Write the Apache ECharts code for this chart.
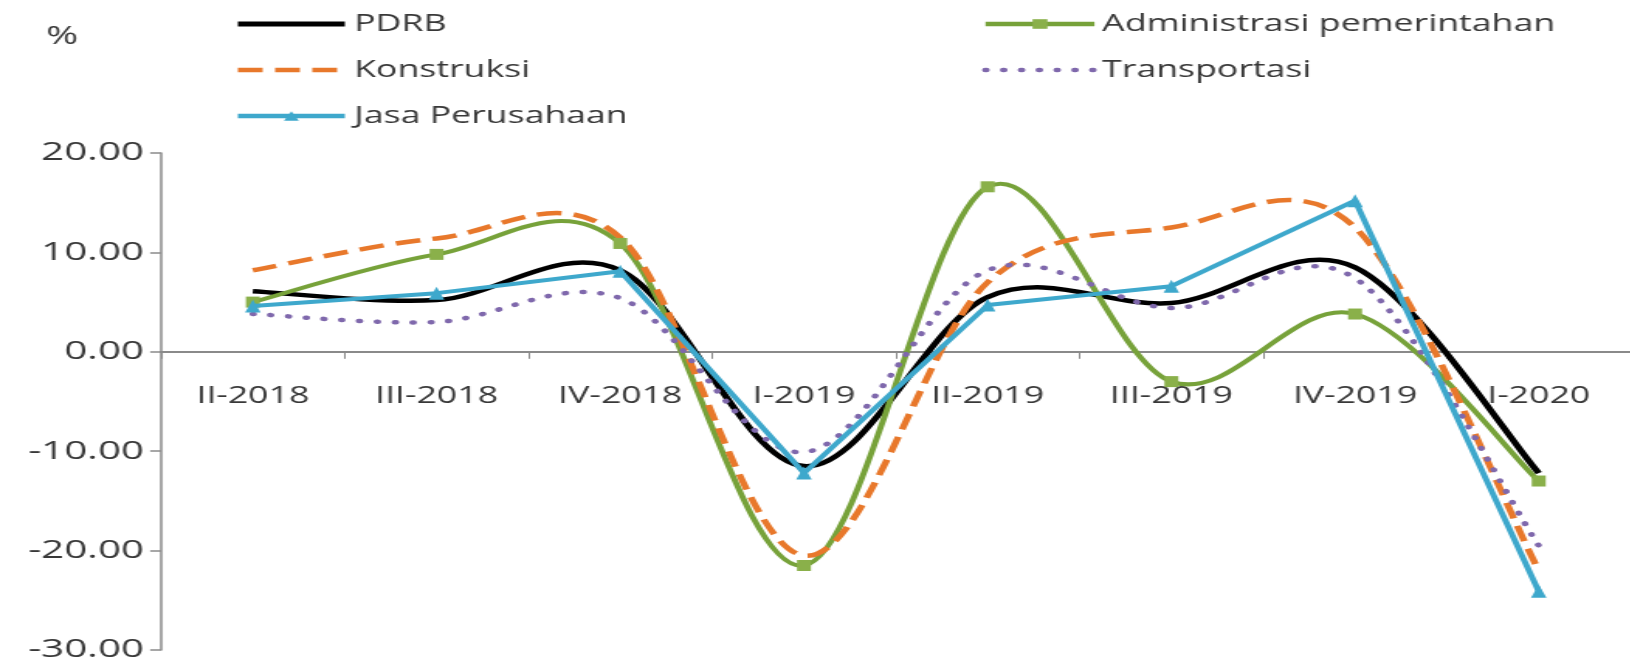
<!DOCTYPE html>
<html>
<head>
<meta charset="utf-8">
<script src="https://cdn.jsdelivr.net/npm/echarts@6/dist/echarts.min.js"></script>
<style>
html, body { margin: 0; padding: 0; background: #fff; overflow: hidden; width: 1630px; height: 667px; }
#wrap { width: 1630px; height: 667px; overflow: hidden; position: relative; }
#chart { width: 1052px; height: 667px; transform: scaleX(1.55); transform-origin: 0 0; position: absolute; left: 0; top: 0; }
</style>
</head>
<body>
<div id="wrap"><div id="chart"></div></div>
<script>
// Data (growth, %)
const categories = ['II-2018', 'III-2018', 'IV-2018', 'I-2019', 'II-2019', 'III-2019', 'IV-2019', 'I-2020'];
const pdrb = [6.1, 5.2, 8.2, -11.5, 5.5, 4.9, 8.5, -12.2];
const administrasi = [5.0, 9.8, 10.9, -21.5, 16.6, -3.0, 3.8, -13.0];
const konstruksi = [8.2, 11.4, 11.5, -20.5, 7.0, 12.5, 12.5, -22.0];
const transportasi = [3.8, 3.0, 5.4, -10.1, 8.2, 4.4, 7.4, -19.5];
const jasa = [4.6, 5.9, 8.1, -12.2, 4.7, 6.6, 15.2, -24.1];
const yTicks = { min: -30, max: 20, interval: 10 };

const S = 1.55; // horizontal stretch of the reference
const FONT = "'Open Sans', 'DejaVu Sans', sans-serif";
const TXT = '#383838';
const AXIS = '#8a8a8a';
const C = { pdrb: '#000000', adm: '#77a23a', kon: '#e8782b', tra: '#7f68ac', jasa: '#3ea8cc' };

// Excel-like smoothed curve drawn through the data via the axes (custom series)
function curve(values, color, width, dash, cap) {
  return {
    type: 'custom', silent: true, data: [0], z: 2,
    renderItem: function (params, api) {
      const pts = values.map((v, i) => api.coord([i, v]));
      const n = pts.length;
      let d = 'M' + pts[0][0] + ' ' + pts[0][1];
      for (let i = 0; i < n - 1; i++) {
        const p0 = pts[Math.max(i - 1, 0)], p1 = pts[i], p2 = pts[i + 1], p3 = pts[Math.min(i + 2, n - 1)];
        const c1x = p1[0] + (p2[0] - p0[0]) / 6, c1y = p1[1] + (p2[1] - p0[1]) / 6;
        const c2x = p2[0] - (p3[0] - p1[0]) / 6, c2y = p2[1] - (p3[1] - p1[1]) / 6;
        d += ' C' + c1x + ' ' + c1y + ' ' + c2x + ' ' + c2y + ' ' + p2[0] + ' ' + p2[1];
      }
      return {
        type: 'path', shape: { pathData: d },
        style: { fill: null, stroke: color, lineWidth: width, lineDash: dash || null, lineCap: cap || 'butt', lineJoin: 'round' }
      };
    }
  };
}

const legendText = { fontFamily: FONT, fontSize: 23, color: TXT, lineHeight: 24 };

const chart = echarts.init(document.getElementById('chart'), null, { renderer: 'canvas' });
chart.setOption({
  animation: false,
  backgroundColor: '#fff',
  title: {
    text: '%', left: 46 / S, top: 24, padding: 0,
    textStyle: { fontFamily: FONT, fontSize: 25, fontWeight: 'normal', color: TXT }
  },
  legend: [
    {
      orient: 'vertical', left: 234 / S, top: 12, padding: 0, itemWidth: 107 / S, itemHeight: 12, itemGap: 22,
      textStyle: Object.assign({ padding: [0, 0, 0, 1] }, legendText),
      data: [
        { name: 'PDRB', itemStyle: { opacity: 0 }, lineStyle: { color: C.pdrb, width: 5, opacity: 1, type: 'solid' } },
        { name: 'Konstruksi', itemStyle: { opacity: 0 }, lineStyle: { color: C.kon, width: 4.5, opacity: 1, type: [16, 8] } },
        { name: 'Jasa Perusahaan', lineStyle: { color: C.jasa, width: 4.5, opacity: 1, type: 'solid' } }
      ]
    },
    {
      orient: 'vertical', left: 982 / S, top: 12, padding: 0, itemWidth: 109 / S, itemHeight: 12, itemGap: 22,
      textStyle: Object.assign({ padding: [0, 0, 0, 0] }, legendText),
      data: [
        { name: 'Administrasi pemerintahan', lineStyle: { color: C.adm, width: 4.5, opacity: 1, type: 'solid' } },
        { name: 'Transportasi', itemStyle: { opacity: 0 }, lineStyle: { color: C.tra, width: 4.5, opacity: 1, type: [0.5, 11], cap: 'round' } }
      ]
    }
  ],
  grid: { left: 161 / S, top: 153, width: 8 * 185.5 / S, height: 497, containLabel: false },
  xAxis: {
    type: 'category', data: categories, boundaryGap: true,
    offset: -497 * (0 - yTicks.min) / (yTicks.max - yTicks.min),
    axisLine: { onZero: false, lineStyle: { color: AXIS, width: 2 } },
    axisTick: { show: true, length: 7, lineStyle: { color: AXIS, width: 1 } },
    axisLabel: { margin: 33, fontFamily: FONT, fontSize: 23, color: TXT },
    splitLine: { show: false }
  },
  yAxis: {
    type: 'value', min: yTicks.min, max: yTicks.max, interval: yTicks.interval,
    axisLine: { show: true, lineStyle: { color: AXIS, width: 1.5 } },
    axisTick: { show: true, length: 7, lineStyle: { color: AXIS, width: 1.5 } },
    axisLabel: { margin: 11, fontFamily: FONT, fontSize: 26, color: TXT, formatter: v => v.toFixed(2) },
    splitLine: { show: false }
  },
  series: [
    curve(pdrb, C.pdrb, 4.5),
    { name: 'PDRB', type: 'line', data: pdrb, symbol: 'none', lineStyle: { color: C.pdrb, opacity: 0 }, itemStyle: { color: C.pdrb } },
    curve(administrasi, C.adm, 4),
    { name: 'Administrasi pemerintahan', type: 'line', data: administrasi, symbol: 'rect', symbolSize: [9, 11], showSymbol: true, z: 3,
      lineStyle: { color: C.adm, opacity: 0 }, itemStyle: { color: '#8ab04a' } },
    curve(konstruksi, C.kon, 4.5, [16, 8]),
    { name: 'Konstruksi', type: 'line', data: konstruksi, symbol: 'none', lineStyle: { color: C.kon, opacity: 0 }, itemStyle: { color: C.kon } },
    curve(transportasi, C.tra, 4.5, [0.5, 11], 'round'),
    { name: 'Transportasi', type: 'line', data: transportasi, symbol: 'none', lineStyle: { color: C.tra, opacity: 0 }, itemStyle: { color: C.tra } },
    { name: 'Jasa Perusahaan', type: 'line', data: jasa, smooth: false, symbol: 'triangle', symbolSize: [10, 13], showSymbol: true, z: 4,
      lineStyle: { color: C.jasa, width: 4 }, itemStyle: { color: C.jasa } }
  ]
});
</script>
</body>
</html>
